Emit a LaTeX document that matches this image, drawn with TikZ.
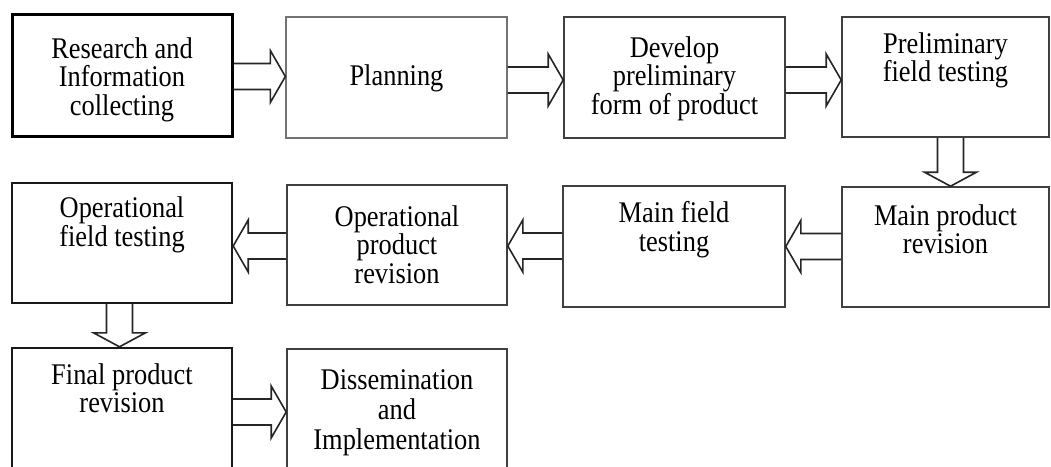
\documentclass[tikz,border=0pt]{standalone}
\usepackage{fontspec}
\setmainfont{Liberation Serif}[FakeStretch=0.88]
\usetikzlibrary{calc}
\newcommand{\bxt}[4]{\parbox[c][#2pt][t]{#1pt}{\centering\vspace*{#3pt}#4\par}}
% right-pointing block arrow: from #1.east to #2.west, vertical offset #3 (px, down)
\newcommand{\rarr}[3]{\draw[arrowline] let \p1=(#1.east), \p2=(#2.west) in
  (\x1,{\y2-(#3)*1pt+13pt}) -- ({\x2-15pt},{\y2-(#3)*1pt+13pt}) -- ({\x2-15pt},{\y2-(#3)*1pt+26pt})
  -- (\x2,{\y2-(#3)*1pt}) -- ({\x2-15pt},{\y2-(#3)*1pt-26pt}) -- ({\x2-15pt},{\y2-(#3)*1pt-13pt})
  -- (\x1,{\y2-(#3)*1pt-13pt});}
% left-pointing block arrow: from #1.west to #2.east
\newcommand{\larr}[3]{\draw[arrowline] let \p1=(#1.west), \p2=(#2.east) in
  (\x1,{\y2-(#3)*1pt+13pt}) -- ({\x2+15pt},{\y2-(#3)*1pt+13pt}) -- ({\x2+15pt},{\y2-(#3)*1pt+26pt})
  -- (\x2,{\y2-(#3)*1pt}) -- ({\x2+15pt},{\y2-(#3)*1pt-26pt}) -- ({\x2+15pt},{\y2-(#3)*1pt-13pt})
  -- (\x1,{\y2-(#3)*1pt-13pt});}
% down-pointing block arrow: from #1.south to #2.north, horizontal offset #3 from #1 centre
\newcommand{\darr}[3]{\draw[arrowline] let \p1=(#1.south), \p2=(#2.north) in
  ({\x1+(#3)*1pt-13pt},\y1) -- ({\x1+(#3)*1pt-13pt},{\y2+14pt}) -- ({\x1+(#3)*1pt-26pt},{\y2+14pt})
  -- ({\x1+(#3)*1pt},\y2) -- ({\x1+(#3)*1pt+26pt},{\y2+14pt}) -- ({\x1+(#3)*1pt+13pt},{\y2+14pt})
  -- ({\x1+(#3)*1pt+13pt},\y1);}
\begin{document}
\begin{tikzpicture}[x=1pt,y=-1pt,
  stepbox/.style={draw=black!75, line width=1.6pt, inner sep=0pt,
    font=\fontsize{30}{28.5}\selectfont},
  thickbox/.style={stepbox, draw=black, line width=3pt},
  midbox/.style={stepbox, draw=black!90, line width=2.4pt},
  lightbox/.style={stepbox, draw=black!55, line width=1.3pt},
  arrowline/.style={draw=black!85, line width=1.6pt, line join=miter}]
\fill[white] (0,0) rectangle (1051,466);
\clip (0,0) rectangle (1051,466);
% row 1
\node[thickbox] (res) at (122,75) {\bxt{220}{122}{23.5}{Research and\\Information\\collecting}};
\node[lightbox] (plan) at (396.5,77.5) {\bxt{221}{121}{47.5}{Planning}};
\node[stepbox] (dev) at (674.5,77.5) {\bxt{221}{121}{19.5}{Develop\\preliminary\\form of product}};
\node[stepbox] (pre) at (945.5,77) {\bxt{207}{120}{15.5}{Preliminary\\field testing}};
% row 2
\node[stepbox] (mpr) at (945.5,247) {\bxt{207}{120}{17.5}{Main product\\revision}};
\node[stepbox] (mft) at (674,246.5) {\bxt{222}{121}{15.5}{Main field\\testing}};
\node[stepbox] (opr) at (397,245) {\bxt{220}{120}{20.5}{Operational\\product\\revision}};
\node[midbox] (oft) at (122,243) {\bxt{220}{120}{14}{Operational\\field testing}};
% row 3
\node[midbox] (fpr) at (122,408.5) {\bxt{220}{121}{15.5}{Final product\\revision}};
\node[stepbox] (dis) at (397,409.5) {\bxt{220}{121}{20.5}{Dissemination\\[1.5pt]and\\[1.5pt]Implementation}};
% connectors
\rarr{res}{plan}{-1}
\rarr{plan}{dev}{2.5}
\rarr{dev}{pre}{3}
\darr{pre}{mpr}{5}
\larr{mpr}{mft}{0}
\larr{mft}{opr}{1}
\larr{opr}{oft}{3}
\darr{oft}{fpr}{-2.5}
\rarr{fpr}{dis}{2.5}
\end{tikzpicture}
\end{document}
